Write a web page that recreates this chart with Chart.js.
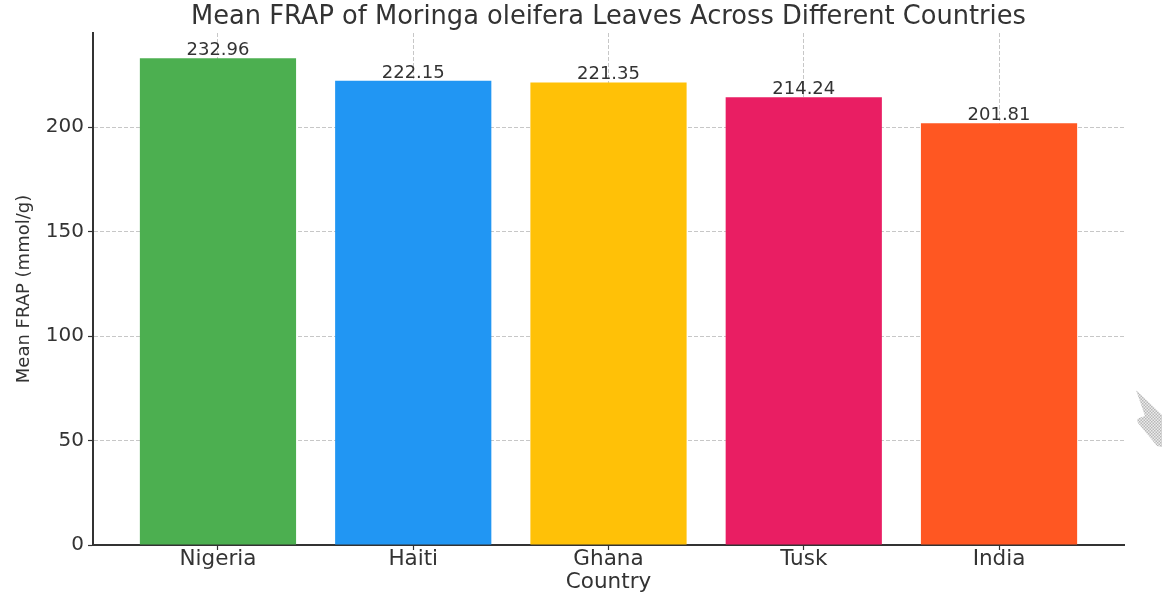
<!DOCTYPE html>
<html>
<head>
<meta charset="utf-8">
<title>Mean FRAP of Moringa oleifera Leaves</title>
<script src="https://cdn.jsdelivr.net/npm/chart.js@4/dist/chart.umd.min.js"></script>
<style>
    html, body { margin: 0; padding: 0; background: #fff; }
    #wrap { position: relative; width: 1162px; height: 598px; }
    #corner { position: absolute; left: 1130px; top: 385px; }
</style>
</head>
<body>
<div id="wrap">
    <canvas id="frap-chart"></canvas>
    <svg id="corner" width="32" height="66" viewBox="0 0 32 66">
        <defs>
            <pattern id="checks" width="3" height="3" patternUnits="userSpaceOnUse">
                <rect width="3" height="3" fill="#ececec"/>
                <rect width="1.5" height="1.5" fill="#b8b8b8"/>
                <rect x="1.5" y="1.5" width="1.5" height="1.5" fill="#b8b8b8"/>
            </pattern>
        </defs>
        <path d="M6 5 L32 30 L32 62 L27 61 L8 38 Q6 34 9 33 L15 31 Z" fill="url(#checks)"/>
    </svg>
</div>
<script>
// FRAP means per country
const countries = ['Nigeria', 'Haiti', 'Ghana', 'Tusk', 'India'];
const frapValues = [232.96, 222.15, 221.35, 214.24, 201.81];
const barColors = ['#4CAF50', '#2196F3', '#FFC107', '#E91E63', '#FF5722'];
const yTicks = [0, 50, 100, 150, 200];
const chartTitle = 'Mean FRAP of Moringa oleifera Leaves Across Different Countries';

const textColor = '#333333';
const gridColor = 'rgba(180, 180, 180, 0.75)';
const fontFamily = '"DejaVu Sans", Verdana, sans-serif';

// Prints each bar's value just above it
const valueLabels = {
    id: 'valueLabels',
    afterDatasetsDraw(chart) {
        const ctx = chart.ctx;
        const meta = chart.getDatasetMeta(0);
        ctx.save();
        ctx.font = '18px ' + fontFamily;
        ctx.fillStyle = textColor;
        ctx.textAlign = 'center';
        ctx.textBaseline = 'alphabetic';
        meta.data.forEach((bar, i) => {
            ctx.fillText(frapValues[i].toFixed(2), bar.x, bar.y - 3);
        });
        ctx.restore();
    }
};

// Title centred over the plot area rather than the whole canvas
const plotTitle = {
    id: 'plotTitle',
    afterDraw(chart) {
        const ctx = chart.ctx;
        const area = chart.chartArea;
        ctx.save();
        ctx.font = '25.7px ' + fontFamily;
        ctx.fillStyle = textColor;
        ctx.textAlign = 'center';
        ctx.textBaseline = 'middle';
        ctx.fillText(chartTitle, (area.left + area.right) / 2, 17);
        ctx.restore();
    }
};

new Chart(document.getElementById('frap-chart'), {
    type: 'bar',
    data: {
        datasets: [{
            data: frapValues.map((v, i) => ({ x: i, y: v })),
            backgroundColor: barColors,
            borderWidth: 0,
            categoryPercentage: 0.8,
            barPercentage: 1.0
        }]
    },
    options: {
        responsive: true,
        maintainAspectRatio: false,
        animation: false,
        devicePixelRatio: 1,
        layout: { padding: { left: 0, right: 38, top: 33, bottom: 0 } },
        plugins: {
            legend: { display: false },
            tooltip: { enabled: false },
            title: { display: false }
        },
        scales: {
            x: {
                type: 'linear',
                min: -0.64,
                max: 4.64,
                offset: false,
                z: 1,
                afterBuildTicks: axis => { axis.ticks = countries.map((c, i) => ({ value: i })); },
                afterFit: axis => { axis.height = 53; },
                ticks: {
                    color: textColor,
                    font: { family: fontFamily, size: 21.5 },
                    padding: -3,
                    maxRotation: 0,
                    autoSkip: false,
                    callback: value => countries[value]
                },
                grid: {
                    offset: false,
                    color: gridColor,
                    lineWidth: 1,
                    tickColor: textColor,
                    tickLength: 5,
                    tickWidth: 1.2
                },
                border: { display: true, color: textColor, width: 2, dash: [4, 2] },
                title: {
                    display: true,
                    text: 'Country',
                    color: textColor,
                    font: { family: fontFamily, size: 21.5, lineHeight: 1.2 },
                    padding: { top: 0, bottom: 3 }
                }
            },
            y: {
                min: 0,
                max: 245,
                z: 1,
                afterBuildTicks: axis => { axis.ticks = yTicks.map(v => ({ value: v })); },
                afterFit: axis => { axis.width = 93; },
                ticks: {
                    color: textColor,
                    font: { family: fontFamily, size: 20 },
                    padding: 4
                },
                grid: {
                    color: gridColor,
                    lineWidth: 1,
                    tickColor: textColor,
                    tickLength: 5,
                    tickWidth: 1.2
                },
                border: { display: true, color: textColor, width: 2, dash: [4, 2] },
                title: {
                    display: true,
                    text: 'Mean FRAP (mmol/g)',
                    color: textColor,
                    font: { family: fontFamily, size: 18, lineHeight: 1.2 },
                    padding: { top: 14, bottom: 0 }
                }
            }
        }
    },
    plugins: [valueLabels, plotTitle]
});
</script>
</body>
</html>
